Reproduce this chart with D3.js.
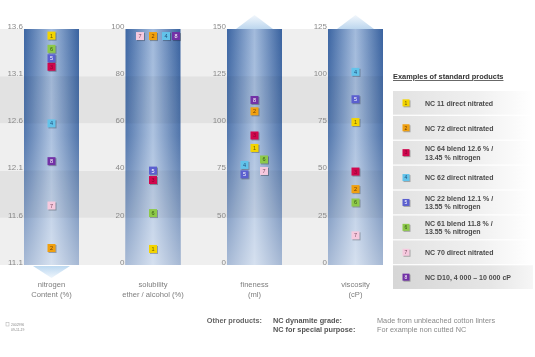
<!DOCTYPE html>
<html>
<head>
<meta charset="utf-8">
<script src="https://cdn.jsdelivr.net/npm/d3@7"></script>
<style>
  body { margin: 0; background: #fff; }
  svg { display: block; font-family: "Liberation Sans", Arial, sans-serif; will-change: transform; }
</style>
</head>
<body>
<div id="chart"></div>
<script>
var svgWidth = 535;
var svgHeight = 357;

// Product ids and legend labels
var productIds = ["1", "2", "3", "4", "5", "6", "7", "8"];
var productLabels = [
    ["NC 11 direct nitrated"],
    ["NC 72 direct nitrated"],
    ["NC 64 blend 12.6 % /", "13.45 % nitrogen"],
    ["NC 62 direct nitrated"],
    ["NC 22 blend 12.1 % /", "13.55 % nitrogen"],
    ["NC 61 blend 11.8 % /", "13.55 % nitrogen"],
    ["NC 70 direct nitrated"],
    ["NC D10, 4 000 \u2013 10 000 cP"]
];
var productColors = ["#f3d400", "#f0a010", "#d0074e", "#62c3ea", "#5b5fcf", "#8dc94a", "#f6c9de", "#7231a6"];
var productTextColors = ["#6b5a00", "#6b3a00", "#8a0030", "#1f4f7a", "#ffffff", "#335514", "#7a4a60", "#ffffff"];

// Values per property (index = product id - 1), null = not shown
var nitrogen   = [13.53, 11.28, 13.2, 12.6, 13.29, 13.39, 11.73, 12.2];
var solubility = [6.8, 97, 36, 97, 40, 22, 97, 97];
var fineness   = [87, 106.4, 93.6, 78, 73, 80.9, 74.8, 112.4];
var viscosity  = [75.7, 40.2, 49.5, 102.3, 87.8, 33.1, 15.7, null];

// Tick labels per column
var nitrogenTicks   = [11.1, 11.6, 12.1, 12.6, 13.1, 13.6];
var solubilityTicks = [0, 20, 40, 60, 80, 100];
var finenessTicks   = [0, 50, 75, 100, 125, 150];
var viscosityTicks  = [0, 25, 50, 75, 100, 125];

var columnTitles = [
    ["nitrogen", "Content (%)"],
    ["solubility", "ether / alcohol (%)"],
    ["fineness", "(ml)"],
    ["viscosity", "(cP)"]
];

// layout
var plotTop = 29, plotBottom = 265;
var colW = 55;
var colLeft = [24, 125.5, 227, 328];
var bandRight = 383;

// small horizontal shifts where markers would overlap
var dodge = [
    [0, 0, 0, 0, 0, 0, 0, 0],
    [0, 0, 0, 13, 0, 0, -13, 23],
    [0, 0, 0, -10, -10, 9.5, 9.5, 0],
    [0, 0, 0, 0, 0, 0, 0, 0]
];

var svg = d3.select("#chart")
    .append("svg")
    .attr("width", svgWidth)
    .attr("height", svgHeight);

var defs = svg.append("defs");

function gradient(id, vertical, stops) {
    var g = defs.append("linearGradient").attr("id", id)
        .attr("x1", "0").attr("y1", "0")
        .attr("x2", vertical ? "0" : "1").attr("y2", vertical ? "1" : "0");
    stops.forEach(function(s) {
        g.append("stop").attr("offset", s[0]).attr("stop-color", s[1])
            .attr("stop-opacity", s.length > 2 ? s[2] : 1);
    });
}
gradient("colGrad", false, [["0%", "#3d66a3"], ["50%", "#a3bbdc"], ["100%", "#39629f"]]);
gradient("fadeGrad", true, [["0%", "#fff", 0], ["45%", "#fff", 0.12], ["100%", "#fff", 0.55]]);
gradient("upGrad", true, [["0%", "#f2f7fc"], ["100%", "#bcd6ee"]]);
gradient("downGrad", true, [["0%", "#bcd8f0"], ["100%", "#eef5fc"]]);
gradient("rowGrad", false, [["0%", "#e2e2e2"], ["60%", "#f0f0f0"], ["100%", "#ffffff"]]);
gradient("rowGradDark", false, [["0%", "#d6d6d6"], ["70%", "#e6e6e6"], ["100%", "#f6f6f6"]]);

// Scales, one per column
var yScales = [
    d3.scaleLinear().domain([11.1, 13.6]).range([plotBottom, plotTop]),
    d3.scaleLinear().domain([0, 100]).range([plotBottom, plotTop]),
    d3.scaleLinear().domain(finenessTicks)
        .range(finenessTicks.map((d, i) => plotBottom - i * (plotBottom - plotTop) / 5)),
    d3.scaleLinear().domain([0, 125]).range([plotBottom, plotTop])
];
var tickSets = [nitrogenTicks, solubilityTicks, finenessTicks, viscosityTicks];
var valueSets = [nitrogen, solubility, fineness, viscosity];

// Background bands
var bandScale = yScales[1];
svg.append("g").selectAll("rect")
    .data(d3.range(5))
    .enter()
    .append("rect")
    .attr("x", 0)
    .attr("width", bandRight)
    .attr("y", i => bandScale(solubilityTicks[i + 1]))
    .attr("height", i => bandScale(solubilityTicks[i]) - bandScale(solubilityTicks[i + 1]))
    .attr("fill", i => (i % 2 === 1) ? "#e2e2e2" : "#efefef");

// Arrows
function arrow(cx, up) {
    var hw = 18.5;
    if (up) {
        svg.append("path")
            .attr("d", `M${cx - hw},${plotTop} L${cx},${plotTop - 14} L${cx + hw},${plotTop} Z`)
            .attr("fill", "url(#upGrad)");
    } else {
        svg.append("path")
            .attr("d", `M${cx - hw},${plotBottom + 1} L${cx},${plotBottom + 13} L${cx + hw},${plotBottom + 1} Z`)
            .attr("fill", "url(#downGrad)");
    }
}
arrow(colLeft[0] + colW / 2, false);
arrow(colLeft[2] + colW / 2, true);
arrow(colLeft[3] + colW / 2, true);

// Columns
colLeft.forEach(function(x0, c) {
    var g = svg.append("g");
    g.append("rect")
        .attr("x", x0).attr("y", plotTop)
        .attr("width", colW).attr("height", plotBottom - plotTop)
        .attr("fill", "url(#colGrad)");
    g.append("rect")
        .attr("x", x0).attr("y", plotTop)
        .attr("width", colW).attr("height", plotBottom - plotTop)
        .attr("fill", "url(#fadeGrad)");
    // darker bands showing faintly through the column
    g.selectAll(".shade")
        .data([1, 3])
        .enter()
        .append("rect")
        .attr("x", x0)
        .attr("width", colW)
        .attr("y", i => bandScale(solubilityTicks[i + 1]))
        .attr("height", i => bandScale(solubilityTicks[i]) - bandScale(solubilityTicks[i + 1]))
        .attr("fill", "#000")
        .attr("opacity", 0.04);

    // tick labels
    var axis = d3.axisLeft(yScales[c])
        .tickValues(tickSets[c])
        .tickSize(0)
        .tickPadding(1)
        .tickFormat(d => c === 0 ? d3.format(".1f")(d) : d);
    var ax = svg.append("g")
        .attr("transform", `translate(${x0}, 0)`)
        .call(axis);
    ax.select(".domain").remove();
    ax.selectAll("text")
        .attr("dy", "-0.1em")
        .attr("fill", "#8a8a8a")
        .style("font-size", "8px")
        .style("font-family", "'Liberation Sans', Arial, sans-serif");

    // column titles
    var t = svg.append("text")
        .attr("x", x0 + colW / 2)
        .attr("y", 287)
        .attr("text-anchor", "middle")
        .attr("fill", "#7d7d7d")
        .style("font-size", "7.6px");
    columnTitles[c].forEach(function(line, k) {
        t.append("tspan").attr("x", x0 + colW / 2).attr("dy", k === 0 ? 0 : 9.5).text(line);
    });
});

// Markers
function marker(g, x, y, i, s, fs) {
    g.append("rect")
        .attr("x", x - s / 2 + 1).attr("y", y - s / 2 + 1)
        .attr("width", s).attr("height", s)
        .attr("fill", "#000").attr("opacity", 0.28);
    g.append("rect")
        .attr("x", x - s / 2).attr("y", y - s / 2)
        .attr("width", s).attr("height", s)
        .attr("fill", productColors[i]);
    g.append("text")
        .attr("x", x).attr("y", y)
        .attr("dy", "0.36em")
        .attr("text-anchor", "middle")
        .attr("fill", productTextColors[i])
        .style("font-size", fs + "px")
        .text(productIds[i]);
}

valueSets.forEach(function(values, c) {
    var g = svg.append("g");
    var cx = colLeft[c] + colW / 2;
    values.forEach(function(v, i) {
        if (v === null) return;
        marker(g, cx + dodge[c][i], yScales[c](v), i, 8, 5.5);
    });
});

// Legend
var legend = svg.append("g");
legend.append("text")
    .attr("x", 393).attr("y", 79)
    .attr("fill", "#333")
    .style("font-size", "7.4px")
    .style("font-weight", "bold")
    .style("text-decoration", "underline")
    .text("Examples of standard products");

var rowH = 24.9, rowTop = 91;
productIds.forEach(function(id, i) {
    var y0 = rowTop + i * rowH;
    legend.append("rect")
        .attr("x", 393).attr("y", y0)
        .attr("width", 140).attr("height", rowH - 1.2)
        .attr("fill", i === 7 ? "url(#rowGradDark)" : "url(#rowGrad)");
    marker(legend, 406, y0 + rowH / 2 - 0.6, i, 7, 5);
    var lines = productLabels[i];
    var t = legend.append("text")
        .attr("x", 425)
        .attr("y", y0 + rowH / 2 + 2.2 - (lines.length - 1) * 4.1)
        .attr("fill", "#4a4a4a")
        .style("font-size", "7px")
        .style("font-weight", "bold");
    lines.forEach(function(line, k) {
        t.append("tspan").attr("x", 425).attr("dy", k === 0 ? 0 : 8.2).text(line);
    });
});

// Footer
var foot = svg.append("g").style("font-size", "7.3px");
foot.append("text").attr("x", 262).attr("y", 323).attr("text-anchor", "end")
    .attr("fill", "#666").style("font-weight", "bold").text("Other products:");
foot.append("text").attr("x", 273).attr("y", 323)
    .attr("fill", "#555").style("font-weight", "bold").text("NC dynamite grade:");
foot.append("text").attr("x", 273).attr("y", 331.5)
    .attr("fill", "#555").style("font-weight", "bold").text("NC for special purpose:");
foot.append("text").attr("x", 377).attr("y", 323)
    .attr("fill", "#8a8a8a").text("Made from unbleached cotton linters");
foot.append("text").attr("x", 377).attr("y", 331.5)
    .attr("fill", "#8a8a8a").text("For example non cutted NC");

// tiny document stamp
var stamp = svg.append("g").attr("fill", "#888").style("font-size", "3.4px");
stamp.append("text").attr("x", 11).attr("y", 326).text("2002996");
stamp.append("text").attr("x", 11).attr("y", 330.5).text("09-11-19");
stamp.append("rect").attr("x", 6).attr("y", 322.5).attr("width", 3).attr("height", 3.5)
    .attr("fill", "none").attr("stroke", "#999").attr("stroke-width", 0.4);
</script>
</body>
</html>
